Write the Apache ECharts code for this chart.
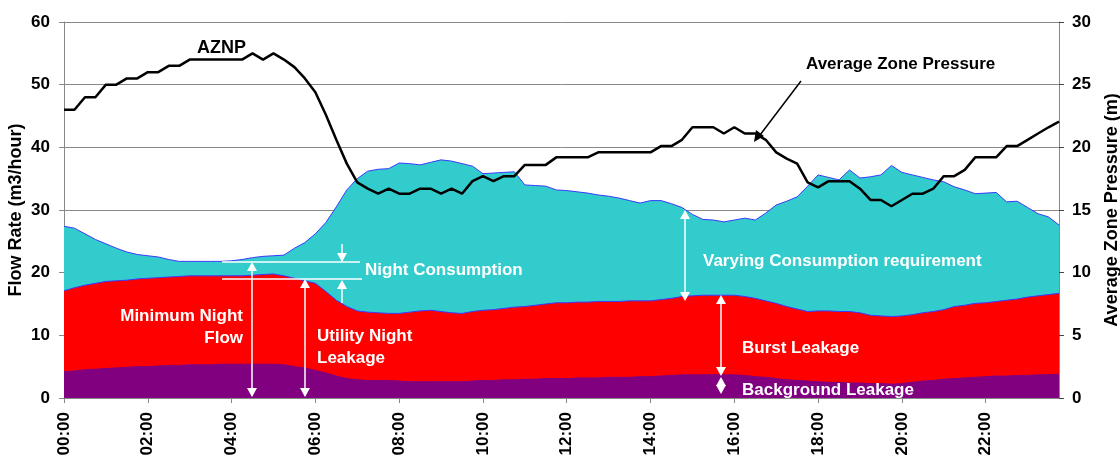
<!DOCTYPE html>
<html>
<head>
<meta charset="utf-8">
<script src="https://cdn.jsdelivr.net/npm/echarts@6/dist/echarts.min.js"></script>
<style>
html,body{margin:0;padding:0;background:#fff;}
#chart{width:1120px;height:462px;}
</style>
</head>
<body>
<div id="chart"></div>
<script>
const categories = [
"00:00","00:15","00:30","00:45","01:00","01:15","01:30","01:45",
"02:00","02:15","02:30","02:45","03:00","03:15","03:30","03:45",
"04:00","04:15","04:30","04:45","05:00","05:15","05:30","05:45",
"06:00","06:15","06:30","06:45","07:00","07:15","07:30","07:45",
"08:00","08:15","08:30","08:45","09:00","09:15","09:30","09:45",
"10:00","10:15","10:30","10:45","11:00","11:15","11:30","11:45",
"12:00","12:15","12:30","12:45","13:00","13:15","13:30","13:45",
"14:00","14:15","14:30","14:45","15:00","15:15","15:30","15:45",
"16:00","16:15","16:30","16:45","17:00","17:15","17:30","17:45",
"18:00","18:15","18:30","18:45","19:00","19:15","19:30","19:45",
"20:00","20:15","20:30","20:45","21:00","21:15","21:30","21:45",
"22:00","22:15","22:30","22:45","23:00","23:15","23:30","23:45"];

// Total flow (top of the consumption area), m3/hour
const totalFlow = [
27.4,27.1,26.2,25.3, 24.6,23.9,23.3,22.9, 22.7,22.5,22.1,21.8, 21.8,21.8,21.8,21.8,
21.9,22.1,22.4,22.6, 22.7,22.8,23.9,24.8, 26.2,28.0,30.5,33.2, 35.0,36.2,36.5,36.6,
37.5,37.4,37.2,37.6, 38.0,37.8,37.4,37.0, 35.8,35.9,36.0,36.1, 34.0,33.9,33.8,33.2,
33.1,32.9,32.7,32.4, 32.2,31.9,31.5,31.1, 31.5,31.5,31.0,30.4, 29.3,28.5,28.4,28.1,
28.4,28.7,28.4,29.5, 30.8,31.4,32.1,33.8, 35.6,35.2,34.8,36.4, 35.1,35.3,35.6,37.1,
36.0,35.6,35.2,34.8, 34.5,33.7,33.2,32.6, 32.7,32.8,31.3,31.4, 30.4,29.4,28.9,27.6];

// Total leakage (burst + background), m3/hour
const leakageFlow = [
17.1,17.6,18.0,18.3, 18.6,18.7,18.8,19.0, 19.1,19.2,19.3,19.4, 19.5,19.5,19.5,19.5,
19.5,19.5,19.6,19.7, 19.8,19.5,19.1,18.7, 18.3,17.0,15.6,14.6, 13.9,13.7,13.6,13.5,
13.5,13.7,13.9,14.0, 13.8,13.6,13.5,13.8, 14.0,14.1,14.3,14.5, 14.6,14.8,15.0,15.2,
15.2,15.3,15.3,15.4, 15.4,15.4,15.5,15.5, 15.5,15.7,15.9,16.2, 16.3,16.4,16.4,16.4,
16.4,16.2,15.9,15.5, 15.1,14.6,14.2,13.8, 13.9,13.9,13.8,13.8, 13.6,13.2,13.1,13.0,
13.1,13.3,13.6,13.8, 14.1,14.6,14.8,15.1, 15.2,15.4,15.6,15.8, 16.1,16.3,16.5,16.7];

// Background leakage, m3/hour
const backgroundLeakage = [
4.2,4.3,4.5,4.6, 4.7,4.8,4.9,5.0, 5.0,5.1,5.2,5.2, 5.3,5.3,5.3,5.4,
5.4,5.4,5.4,5.4, 5.4,5.3,5.0,4.8, 4.4,4.0,3.5,3.1, 2.9,2.8,2.8,2.8,
2.7,2.6,2.6,2.6, 2.6,2.6,2.6,2.7, 2.8,2.8,2.9,2.9, 3.0,3.0,3.1,3.1,
3.1,3.2,3.2,3.2, 3.3,3.3,3.3,3.4, 3.4,3.5,3.6,3.7, 3.7,3.7,3.7,3.7,
3.7,3.6,3.4,3.3, 3.1,2.9,2.8,2.7, 2.6,2.5,2.5,2.4, 2.4,2.3,2.3,2.2,
2.3,2.5,2.7,2.8, 3.0,3.1,3.2,3.3, 3.4,3.5,3.5,3.6, 3.6,3.7,3.7,3.8];

// Average zone pressure (m)
const aznp = [
23,23,24,24, 25,25,25.5,25.5, 26,26,26.5,26.5, 27,27,27,27,
27,27,27.5,27, 27.5,27,26.4,25.5, 24.4,22.6,20.6,18.7, 17.2,16.7,16.3,16.7,
16.3,16.3,16.7,16.7, 16.3,16.7,16.3,17.3, 17.7,17.3,17.7,17.7, 18.6,18.6,18.6,19.2,
19.2,19.2,19.2,19.6, 19.6,19.6,19.6,19.6, 19.6,20.1,20.1,20.6, 21.6,21.6,21.6,21.1,
21.6,21.1,21.1,20.6, 19.6,19.1,18.7,17.2, 16.8,17.3,17.3,17.3, 16.7,15.8,15.8,15.3,
15.8,16.3,16.3,16.7, 17.7,17.7,18.2,19.2, 19.2,19.2,20.1,20.1, 20.6,21.1,21.6,22.05];

const flowAxis = {min: 0, max: 60, interval: 10};
const pressureAxis = {min: 0, max: 30, interval: 5};

const FONT = '"Liberation Sans", Arial, sans-serif';

function arrowHead(x, y, dir, color) {
  const w = 5, h = 9;
  const pts = dir === 'up'
    ? [[x, y], [x - w, y + h], [x + w, y + h]]
    : [[x, y], [x - w, y - h], [x + w, y - h]];
  return {type: 'polygon', shape: {points: pts}, style: {fill: color}, z: 100};
}
function vline(x, y1, y2, color) {
  return {type: 'line', shape: {x1: x, y1: y1, x2: x, y2: y2}, style: {stroke: color, lineWidth: 1.5}, z: 100};
}
function hline(x1, x2, y, color) {
  return {type: 'line', shape: {x1: x1, y1: y, x2: x2, y2: y}, style: {stroke: color, lineWidth: 1.5}, z: 100};
}
function label(x, y, text, color, align, size) {
  return {type: 'text', x: x, y: y, z: 101,
    style: {text: text, fill: color, font: 'bold ' + (size || 17) + 'px ' + FONT, align: align || 'left', verticalAlign: 'middle'}};
}

const W = '#ffffff';
const graphics = [
  vline(252, 264, 396, W), arrowHead(252, 262, 'up', W), arrowHead(252, 397, 'down', W),
  vline(305, 281, 396, W), arrowHead(305, 279, 'up', W), arrowHead(305, 397, 'down', W),
  hline(222, 360, 262, W), hline(222, 362, 279, W),
  vline(342, 244, 261, W), arrowHead(342, 262, 'down', W),
  vline(342, 281, 303, W), arrowHead(342, 280, 'up', W),
  vline(685, 212, 299, W), arrowHead(685, 210, 'up', W), arrowHead(685, 301, 'down', W),
  vline(721, 297, 374, W), arrowHead(721, 295, 'up', W), arrowHead(721, 376, 'down', W),
  vline(721, 379, 392, W), arrowHead(721, 377, 'up', W), arrowHead(721, 394, 'down', W),
  label(365, 270, 'Night Consumption', W),
  label(703, 261, 'Varying Consumption requirement', W),
  label(243, 316, 'Minimum Night', W, 'right'),
  label(243, 338, 'Flow', W, 'right'),
  label(317, 336, 'Utility Night', W),
  label(317, 358, 'Leakage', W),
  label(742, 348, 'Burst Leakage', W),
  label(742, 390, 'Background Leakage', W),
  label(197, 48, 'AZNP', '#000', 'left', 18),
  label(806, 64, 'Average Zone Pressure', '#000'),
  {type: 'line', shape: {x1: 801, y1: 81, x2: 760, y2: 135}, style: {stroke: '#000', lineWidth: 1.5}, z: 101},
  {type: 'polygon', shape: {points: [[754, 142], [756, 130], [764, 136]]}, style: {fill: '#000'}, z: 101}
];

const chart = echarts.init(document.getElementById('chart'), null, {renderer: 'canvas'});
const axisLabelStyle = {color: '#000', fontFamily: FONT, fontWeight: 'bold', fontSize: 17};
const nameStyle = {color: '#000', fontFamily: FONT, fontWeight: 'bold', fontSize: 18};
chart.setOption({
  animation: false,
  backgroundColor: '#fff',
  grid: {left: 64, right: 61, top: 22, bottom: 64, containLabel: false, outerBoundsMode: 'none'},
  xAxis: {
    type: 'category', data: categories, boundaryGap: false,
    axisLine: {show: true, lineStyle: {color: '#888', width: 1}},
    axisTick: {show: true, interval: 7, length: 5, lineStyle: {color: '#888'}},
    axisLabel: {interval: 7, rotate: 90, color: '#000', fontFamily: FONT, fontWeight: 'bold', fontSize: 17, margin: 14},
    splitLine: {show: false}
  },
  yAxis: [
    {type: 'value', min: flowAxis.min, max: flowAxis.max, interval: flowAxis.interval, position: 'left',
     name: 'Flow Rate (m3/hour)', nameLocation: 'middle', nameRotate: 90, nameGap: 39, nameMoveOverlap: false,
     nameTextStyle: nameStyle,
     axisLine: {show: true, lineStyle: {color: '#888'}},
     axisTick: {show: true, length: 5, lineStyle: {color: '#888'}},
     axisLabel: Object.assign({margin: 14}, axisLabelStyle),
     splitLine: {show: true, lineStyle: {color: '#888', width: 1}}},
    {type: 'value', min: pressureAxis.min, max: pressureAxis.max, interval: pressureAxis.interval, position: 'right',
     name: 'Average Zone Pressure (m)', nameLocation: 'middle', nameRotate: 90, nameGap: 44, nameMoveOverlap: false,
     nameTextStyle: nameStyle,
     axisLine: {show: true, lineStyle: {color: '#888'}},
     axisTick: {show: true, length: 5, lineStyle: {color: '#444'}},
     axisLabel: Object.assign({margin: 13}, axisLabelStyle),
     splitLine: {show: false}}
  ],
  series: [
    {name: 'Varying Consumption', type: 'line', data: totalFlow, yAxisIndex: 0, symbol: 'none',
     lineStyle: {color: '#3a3aff', width: 1}, areaStyle: {color: '#33CCCC', opacity: 1}, z: 2},
    {name: 'Burst Leakage', type: 'line', data: leakageFlow, yAxisIndex: 0, symbol: 'none',
     lineStyle: {color: '#3a3aff', width: 1}, areaStyle: {color: '#FF0000', opacity: 1}, z: 3},
    {name: 'Background Leakage', type: 'line', data: backgroundLeakage, yAxisIndex: 0, symbol: 'none',
     lineStyle: {color: '#800080', width: 1}, areaStyle: {color: '#800080', opacity: 1}, z: 4},
    {name: 'AZNP', type: 'line', data: aznp, yAxisIndex: 1, symbol: 'none',
     lineStyle: {color: '#000', width: 2.5}, z: 5}
  ],
  graphic: graphics
});
</script>
</body>
</html>
